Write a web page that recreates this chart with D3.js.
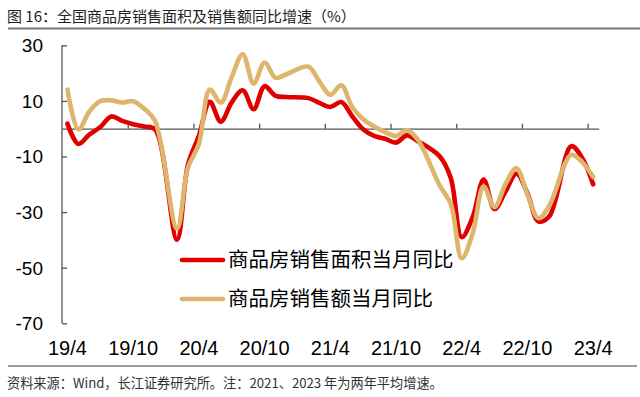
<!DOCTYPE html>
<html>
<head>
<meta charset="utf-8">
<script src="https://cdn.jsdelivr.net/npm/d3@7/dist/d3.min.js"></script>
<style>
  html, body { margin: 0; padding: 0; background: #fff; }
  svg { display: block; }
  text { font-family: "Liberation Sans", Arial, "Noto Sans CJK SC", sans-serif; }
  .cjk { font-family: "Noto Sans CJK SC", "Liberation Sans", sans-serif; }
</style>
</head>
<body>
<svg id="chart" width="640" height="397"></svg>
<script>
// ---------------- data ----------------
const months = [
  "19/4","19/5","19/6","19/7","19/8","19/9","19/10","19/11","19/12",
  "20/1","20/2","20/3","20/4","20/5","20/6","20/7","20/8","20/9","20/10","20/11","20/12",
  "21/1","21/2","21/3","21/4","21/5","21/6","21/7","21/8","21/9","21/10","21/11","21/12",
  "22/1","22/2","22/3","22/4","22/5","22/6","22/7","22/8","22/9","22/10","22/11","22/12",
  "23/1","23/2","23/3","23/4"
];
// 商品房销售面积当月同比 (%), January merged into Feb (null)
const areaYoY = [
  1.8, -5.5, -2.1, 0.6, 4.4, 2.8, 1.6, 0.8, -0.3,
  null, -39.9, -13.0, -2.5, 9.7, 2.5, 9.5, 13.8, 7.0, 15.3, 11.8, 11.4,
  null, 11.0, 9.3, 7.8, 9.6, 4.5, -0.2, -2.6, -3.6, -5.0, -2.4, -4.5,
  null, -10.0, -17.7, -39.0, -31.8, -18.3, -28.9, -22.6, -16.2, -23.2, -33.3, -31.5,
  null, -6.3, -10.5, -20.0
];
// 商品房销售额当月同比 (%)
const valueYoY = [
  14.1, -0.3, 6.2, 9.9, 10.2, 9.4, 9.9, 7.2, 2.8,
  null, -35.9, -14.0, -5.5, 14.1, 9.4, 18.6, 26.8, 16.2, 23.8, 18.3, 19.6,
  null, 22.3, 17.0, 12.2, 15.6, 7.8, 3.4, 0.8, -1.2, -2.6, -0.6, -4.0,
  null, -20.5, -27.0, -46.6, -37.7, -20.8, -28.2, -19.9, -14.2, -23.7, -32.2, -27.7,
  null, -9.4, -12.0, -17.4
];
const xTickLabels = ["19/4","19/10","20/4","20/10","21/4","21/10","22/4","22/10","23/4"];
const yTicks = [30, 10, -10, -30, -50, -70];
const seriesNames = ["商品房销售面积当月同比", "商品房销售额当月同比"];
const titleText = "图 16：全国商品房销售面积及销售额同比增速（%）";
const sourceText = "资料来源：Wind，长江证券研究所。注：2021、2023 年为两年平均增速。";

// ---------------- layout ----------------
const svg = d3.select("#chart");
const plot = { left: 62, right: 598.6, top: 45.3, bottom: 323.3 };
const colors = { area: "#E00000", value: "#DDB56C", axis: "#555" };

const x = d3.scaleBand().domain(months).range([plot.left, plot.right]).paddingInner(0).paddingOuter(0);
const xc = m => x(m) + x.bandwidth() / 2;
const y = d3.scaleLinear().domain([-70, 30]).range([plot.bottom, plot.top]);

svg.append("rect").attr("width", 640).attr("height", 397).attr("fill", "#fff");

// title
svg.append("text").attr("class", "cjk")
  .attr("x", 7).attr("y", 22)
  .attr("font-size", 15).attr("fill", "#222")
  .text(titleText);
svg.append("line").attr("x1", 8).attr("x2", 640).attr("y1", 28.5).attr("y2", 28.5)
  .attr("stroke", "#7a7a7a").attr("stroke-width", 2);

// y axis
const yAxis = svg.append("g").attr("transform", `translate(${plot.left},0)`)
  .call(d3.axisRight(y).tickValues(yTicks).tickSize(5).tickFormat(""));
yAxis.select(".domain").attr("stroke", colors.axis).attr("stroke-width", 1.3)
  .attr("d", `M0,${plot.top}V${plot.bottom}`);
yAxis.selectAll(".tick line").attr("stroke", colors.axis).attr("stroke-width", 1.3);

svg.append("g").selectAll("text").data(yTicks).join("text")
  .attr("x", 43).attr("y", d => y(d)).attr("dy", "0.36em")
  .attr("text-anchor", "end").attr("font-size", 19).attr("fill", "#000")
  .text(d => d);

// x axis at zero with upward ticks at every 6th band boundary
const boundaryTicks = xTickLabels.map(m => x(m)).filter(v => v > plot.left + 1);
const xAxisScale = d3.scaleLinear().domain([plot.left, plot.right]).range([plot.left, plot.right]);
const xAxis = svg.append("g").attr("transform", `translate(0,${y(0)})`)
  .call(d3.axisTop(xAxisScale).tickValues(boundaryTicks).tickSize(5).tickSizeOuter(0).tickFormat(""));
xAxis.select(".domain").attr("stroke", colors.axis).attr("stroke-width", 1.3);
xAxis.selectAll(".tick line").attr("stroke", colors.axis).attr("stroke-width", 1.3);

// x labels at band centers
svg.append("g").selectAll("text").data(xTickLabels).join("text")
  .attr("x", d => xc(d)).attr("y", 355)
  .attr("text-anchor", "middle").attr("font-size", 20).attr("fill", "#000")
  .text(d => d);

// lines
const line = d3.line()
  .x(d => xc(d.m)).y(d => y(d.v))
  .curve(d3.curveCatmullRom.alpha(0.5));
const build = arr => months.map((m, i) => ({ m, v: arr[i] })).filter(d => d.v !== null);

svg.append("path").datum(build(areaYoY))
  .attr("d", line).attr("fill", "none")
  .attr("stroke", colors.area).attr("stroke-width", 4.6)
  .attr("stroke-linejoin", "round").attr("stroke-linecap", "round");
svg.append("path").datum(build(valueYoY))
  .attr("d", line).attr("fill", "none")
  .attr("stroke", colors.value).attr("stroke-width", 4.6)
  .attr("stroke-linejoin", "round").attr("stroke-linecap", "round");

// legend
const legend = svg.append("g");
[{ name: seriesNames[0], c: colors.area, yy: 260 }, { name: seriesNames[1], c: colors.value, yy: 299 }]
  .forEach(d => {
    legend.append("line").attr("x1", 182).attr("x2", 223).attr("y1", d.yy).attr("y2", d.yy)
      .attr("stroke", d.c).attr("stroke-width", 4.6).attr("stroke-linecap", "round");
    legend.append("text").attr("class", "cjk")
      .attr("x", 228).attr("y", d.yy).attr("dy", "0.36em")
      .attr("font-size", 20.5).attr("fill", "#000")
      .text(d.name);
  });

// bottom rule & source
svg.append("line").attr("x1", 8).attr("x2", 637).attr("y1", 366).attr("y2", 366)
  .attr("stroke", "#9a9a9a").attr("stroke-width", 2);
svg.append("text").attr("class", "cjk")
  .attr("x", 7).attr("y", 388)
  .attr("font-size", 13.2).attr("fill", "#333")
  .text(sourceText);
</script>
</body>
</html>
